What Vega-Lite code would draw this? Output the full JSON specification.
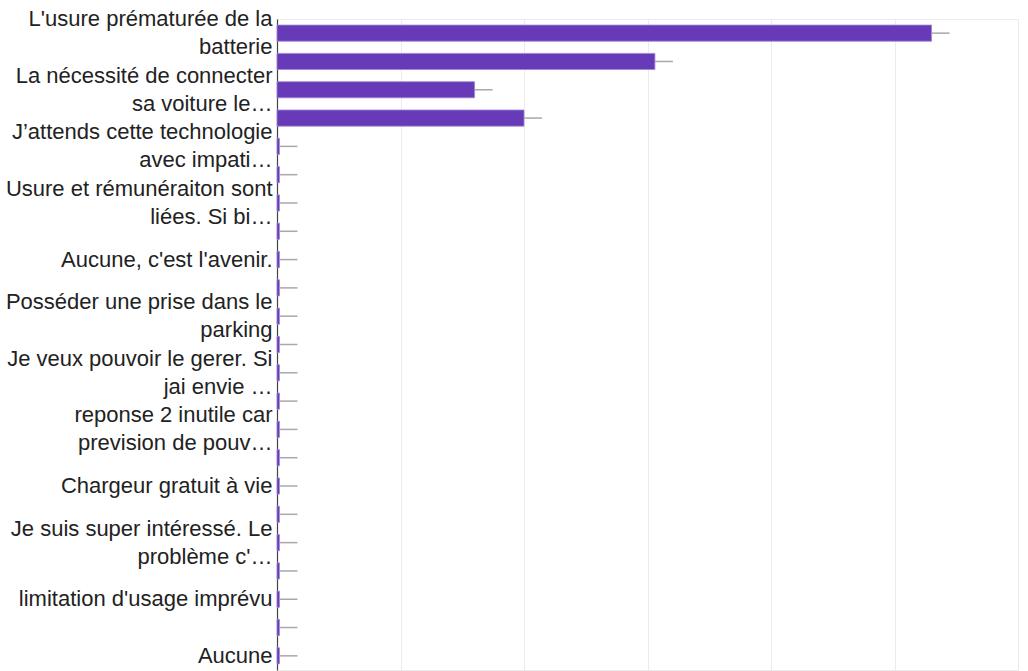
{
  "$schema": "https://vega.github.io/schema/vega-lite/v6.json",
  "width": 741,
  "height": 651,
  "autosize": {"type": "none"},
  "padding": {"left": 277, "top": 19, "right": 10, "bottom": 1},
  "background": "#ffffff",
  "config": {
    "view": {"stroke": "#ececec", "strokeWidth": 1},
    "font": "Liberation Sans"
  },
  "data": {
    "values": [
      {"reponse": "L'usure prématurée de la|batterie", "n": 265},
      {"reponse": "Réponse 2", "n": 153},
      {"reponse": "La nécessité de connecter|sa voiture le…", "n": 80},
      {"reponse": "Réponse 4", "n": 100},
      {"reponse": "J’attends cette technologie|avec impati…", "n": 1},
      {"reponse": "Réponse 6", "n": 1},
      {"reponse": "Usure et rémunéraiton sont|liées. Si bi…", "n": 1},
      {"reponse": "Réponse 8", "n": 1},
      {"reponse": "Aucune, c'est l'avenir.", "n": 1},
      {"reponse": "Réponse 10", "n": 1},
      {"reponse": "Posséder une prise dans le|parking", "n": 1},
      {"reponse": "Réponse 12", "n": 1},
      {"reponse": "Je veux pouvoir le gerer. Si|jai envie …", "n": 1},
      {"reponse": "Réponse 14", "n": 1},
      {"reponse": "reponse 2 inutile car|prevision de pouv…", "n": 1},
      {"reponse": "Réponse 16", "n": 1},
      {"reponse": "Chargeur gratuit à vie", "n": 1},
      {"reponse": "Réponse 18", "n": 1},
      {"reponse": "Je suis super intéressé. Le|problème c'…", "n": 1},
      {"reponse": "Réponse 20", "n": 1},
      {"reponse": "limitation d'usage imprévu", "n": 1},
      {"reponse": "Réponse 22", "n": 1},
      {"reponse": "Aucune", "n": 1}
    ]
  },
  "encoding": {
    "y": {
      "field": "reponse",
      "type": "nominal",
      "sort": null,
      "title": null,
      "scale": {"paddingInner": 0.43, "paddingOuter": 0.215},
      "axis": {
        "labelExpr": "round(datum.index * 22) % 2 == 0 ? split(datum.label, '|') : ''",
        "labelOffset": {"condition": {"test": "indexof(datum.value, '|') >= 0", "value": -14}, "value": 0},
        "labelFont": "Liberation Sans",
        "labelFontSize": 22,
        "labelLineHeight": 28,
        "labelColor": "#222222",
        "labelLimit": 400,
        "labelOverlap": false,
        "labelBound": false,
        "labelPadding": 5,
        "ticks": false,
        "grid": false,
        "domainColor": "#444444",
        "domainWidth": 1.2
      }
    }
  },
  "layer": [
    {
      "mark": {"type": "bar", "color": "#673ab7", "stroke": "#9f86d6", "strokeWidth": 0.8},
      "encoding": {
        "x": {
          "field": "n",
          "type": "quantitative",
          "title": null,
          "scale": {"domain": [0, 300], "nice": false},
          "axis": {
            "values": [0, 50, 100, 150, 200, 250, 300],
            "labels": false,
            "ticks": false,
            "domain": false,
            "grid": true,
            "gridColor": "#ebebeb",
            "gridWidth": 1
          }
        }
      }
    },
    {
      "mark": {"type": "rule", "color": "#a8a8a8", "strokeWidth": 1.5, "x2Offset": 18},
      "encoding": {
        "x": {"field": "n", "type": "quantitative"},
        "x2": {"field": "n"}
      }
    }
  ]
}
